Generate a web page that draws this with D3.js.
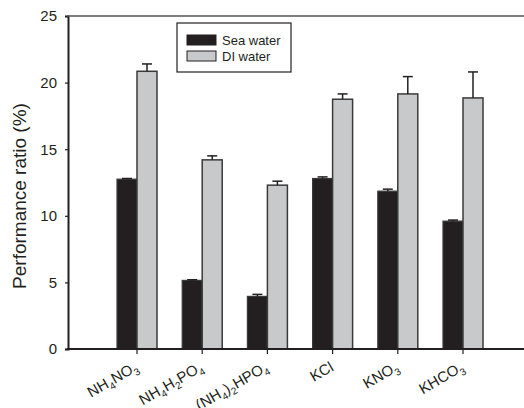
<!DOCTYPE html>
<html>
<head>
<meta charset="utf-8">
<script src="https://cdn.jsdelivr.net/npm/d3@7"></script>
<style>
  body { margin: 0; background: #fff; }
  text { font-family: "Liberation Sans", Arial, sans-serif; fill: #231f20; }
</style>
</head>
<body>
<div id="chart"></div>
<script>
// salt names on the x axis, split in pieces: [text, isSubscript]
var salts = [
  [["NH", 0], ["4", 1], ["NO", 0], ["3", 1]],
  [["NH", 0], ["4", 1], ["H", 0], ["2", 1], ["PO", 0], ["4", 1]],
  [["(NH", 0], ["4", 1], [")", 0], ["2", 1], ["HPO", 0], ["4", 1]],
  [["KCl", 0]],
  [["KNO", 0], ["3", 1]],
  [["KHCO", 0], ["3", 1]]
];
var saltNames = ["NH4NO3", "NH4H2PO4", "(NH4)2HPO4", "KCl", "KNO3", "KHCO3"];

var seaWater = [12.75, 5.15, 3.95, 12.8, 11.85, 9.6];
var seaErr   = [0.05, 0.05, 0.15, 0.12, 0.15, 0.08];
var diWater  = [20.85, 14.2, 12.3, 18.75, 19.15, 18.85];
var diErr    = [0.55, 0.3, 0.3, 0.4, 1.3, 1.95];

var yTicks = [0, 5, 10, 15, 20, 25];

var width = 524, height = 408;
var plotLeft = 68, plotTop = 16, plotBottom = 349;

var svg = d3.select("#chart")
     .append("svg")
     .attr("width", width)
     .attr("height", height);

var scaleX = d3.scaleBand()
     .domain(saltNames)
     .range([104.4, 495.6]);
var scaleY = d3.scaleLinear()
     .domain([0, 25])
     .range([plotBottom, plotTop]);

var barW = 20;
function cx(d) { return scaleX(d) + scaleX.bandwidth() / 2; }

// bars: sea water left of the tick, DI water right of it
var groups = svg.selectAll(".grp")
     .data(saltNames)
     .enter()
     .append("g")
     .attr("transform", function(d) { return "translate(" + cx(d) + ",0)"; });

groups.append("rect")
     .attr("x", -barW)
     .attr("y", function(d, i) { return scaleY(seaWater[i]); })
     .attr("width", barW)
     .attr("height", function(d, i) { return plotBottom - scaleY(seaWater[i]); })
     .attr("fill", "#231f20")
     .attr("stroke", "#3a3a3a")
     .attr("stroke-width", 1.2);

groups.append("rect")
     .attr("x", 0)
     .attr("y", function(d, i) { return scaleY(diWater[i]); })
     .attr("width", barW)
     .attr("height", function(d, i) { return plotBottom - scaleY(diWater[i]); })
     .attr("fill", "#c8c9cb")
     .attr("stroke", "#3a3a3a")
     .attr("stroke-width", 1.5);

// error bars (upper half only)
function errBar(sel, x, vals, errs) {
  sel.append("line")
     .attr("x1", x).attr("x2", x)
     .attr("y1", function(d, i) { return scaleY(vals[i]); })
     .attr("y2", function(d, i) { return scaleY(vals[i] + errs[i]); })
     .attr("stroke", "#231f20").attr("stroke-width", 1.5);
  sel.append("line")
     .attr("x1", x - 5).attr("x2", x + 5)
     .attr("y1", function(d, i) { return scaleY(vals[i] + errs[i]); })
     .attr("y2", function(d, i) { return scaleY(vals[i] + errs[i]); })
     .attr("stroke", "#231f20").attr("stroke-width", 1.5);
}
errBar(groups, -barW / 2, seaWater, seaErr);
errBar(groups, barW / 2, diWater, diErr);

// axes
var yAxis = svg.append("g")
     .attr("transform", "translate(" + plotLeft + ",0)")
     .call(d3.axisLeft(scaleY).tickValues(yTicks).tickSize(3).tickPadding(8));
yAxis.select(".domain").attr("stroke", "#231f20").attr("stroke-width", 2);
yAxis.selectAll(".tick line").attr("stroke", "#231f20").attr("stroke-width", 1.2);
yAxis.selectAll("text").style("font-size", "15px").attr("fill", "#231f20")
     .style("font-family", "'Liberation Sans', Arial, sans-serif");

// x axis line and top frame line
svg.append("line")
     .attr("x1", plotLeft - 1).attr("x2", width)
     .attr("y1", plotBottom).attr("y2", plotBottom)
     .attr("stroke", "#231f20").attr("stroke-width", 2);
svg.append("line")
     .attr("x1", plotLeft - 1).attr("x2", width)
     .attr("y1", plotTop).attr("y2", plotTop)
     .attr("stroke", "#555").attr("stroke-width", 1.5);

var xTicks = svg.selectAll(".xtick")
     .data(saltNames)
     .enter()
     .append("g")
     .attr("transform", function(d) { return "translate(" + cx(d) + "," + plotBottom + ")"; });
xTicks.append("line")
     .attr("y1", 0).attr("y2", 5)
     .attr("stroke", "#231f20").attr("stroke-width", 1.2);

var lbl = xTicks.append("text")
     .attr("text-anchor", "end")
     .attr("transform", "translate(2,21) rotate(-30)")
     .style("font-size", "15px");
lbl.each(function(d, i) {
  var t = d3.select(this);
  var prevSub = false;
  salts[i].forEach(function(p) {
    var sub = p[1] === 1;
    var dy = sub ? (prevSub ? 0 : 4) : (prevSub ? -4 : 0);
    t.append("tspan")
      .attr("dy", dy)
      .style("font-size", sub ? "10px" : "15px")
      .text(p[0]);
    prevSub = sub;
  });
});

// y title
svg.append("text")
     .attr("transform", "translate(26,196) rotate(-90)")
     .attr("text-anchor", "middle")
     .style("font-size", "19px")
     .text("Performance ratio (%)");

// legend
var legend = svg.append("g");
legend.append("rect")
     .attr("x", 177).attr("y", 23)
     .attr("width", 114).attr("height", 49)
     .attr("fill", "#fff").attr("stroke", "#231f20").attr("stroke-width", 1.2);
var series = ["Sea water", "DI water"];
var colors = ["#231f20", "#c8c9cb"];
series.forEach(function(s, i) {
  legend.append("rect")
       .attr("x", 187).attr("y", 35 + i * 16)
       .attr("width", 29).attr("height", 10)
       .attr("fill", colors[i]).attr("stroke", "#231f20").attr("stroke-width", 1);
  legend.append("text")
       .attr("x", 222).attr("y", 45 + i * 16)
       .style("font-size", "13px")
       .text(s);
});
</script>
</body>
</html>
